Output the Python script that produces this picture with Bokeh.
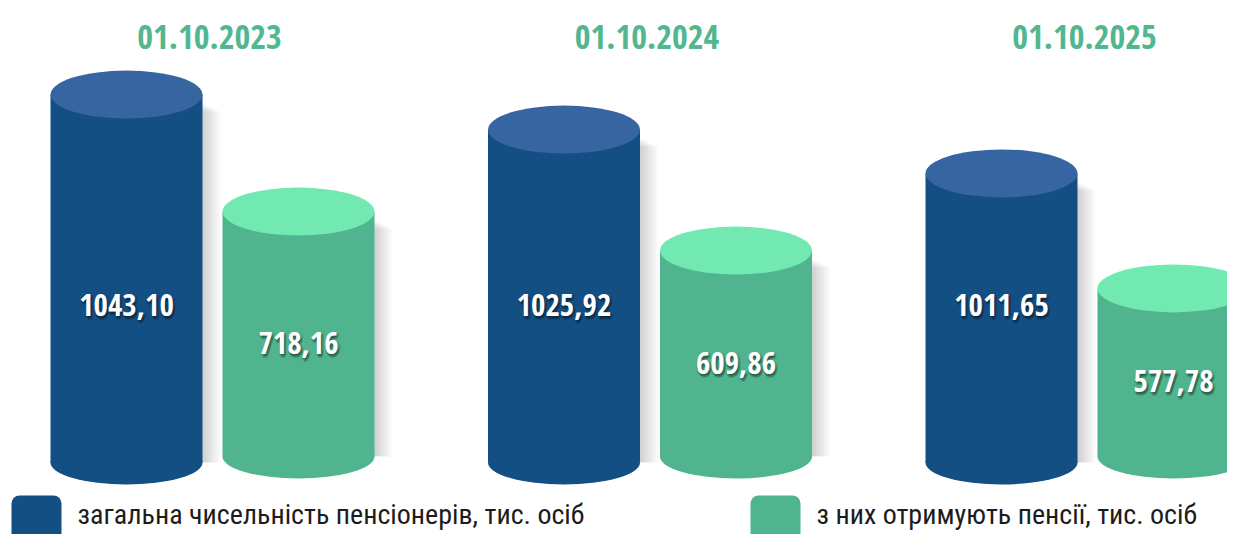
from bokeh.plotting import figure
from bokeh.models import Range1d
from bokeh.core.properties import value
from bokeh.embed import file_html
from bokeh.resources import INLINE

# ---------------- data ----------------
dates = ["01.10.2023", "01.10.2024", "01.10.2025"]
total_pensioners = [1043.10, 1025.92, 1011.65]
receiving_pension = [718.16, 609.86, 577.78]
series_names = ["загальна чисельність пенсіонерів, тис. осіб",
                "з них отримують пенсії, тис. осіб"]

# ---------------- style / layout ----------------
BLUE_BODY, BLUE_TOP = "#144f84", "#3665a2"
GREEN_BODY, GREEN_TOP = "#50b58e", "#71e9b0"
TITLE_GREEN = "#52b78f"
NUM_FONT = "'Open Sans Condensed', 'Roboto Condensed', sans-serif"
LEG_FONT = "'Roboto Condensed', Roboto, sans-serif"

W, H = 1227, 534
CYL_W = 152
GROUP_X0, GROUP_STEP, HALF_SEP = 212, 437.5, 86
# each group is drawn on its own value scale (screen y of value 0, px per unit)
GROUP_ZERO_Y = [469.6, 427.4, 441.0]
GROUP_PX_PER_UNIT = [0.360, 0.2908, 0.265]
BLUE_BASE_Y, GREEN_BASE_Y = 462, 456

p = figure(width=W, height=H, x_range=Range1d(0, W), y_range=Range1d(H, 0),
           output_backend="svg", toolbar_location=None, min_border=0,
           x_axis_type=None, y_axis_type=None)
p.grid.visible = False
p.outline_line_color = None
p.background_fill_color = "white"
p.border_fill_color = "white"

def fmt(v):
    return f"{v:.2f}".replace(".", ",")

def cylinder(xc, v, base_v, rng, body, top, s):
    # soft shadow to the right
    for k in range(1, 10):
        p.quad(left=[xc], right=[xc + CYL_W / 2 + 2 * k], top=[v - (8 + k) / s], bottom=[base_v],
               fill_color="black", fill_alpha=0.018, line_color=None, y_range_name=rng)
    p.quad(left=[xc - CYL_W / 2], right=[xc + CYL_W / 2], top=[v], bottom=[base_v],
           fill_color=body, line_color=None, y_range_name=rng)
    p.ellipse(x=[xc], y=[base_v], width=CYL_W, height=44, height_units="screen",
              fill_color=body, line_color=None, y_range_name=rng)
    p.ellipse(x=[xc], y=[v], width=CYL_W, height=48, height_units="screen",
              fill_color=top, line_color=None, y_range_name=rng)

def label(x, y, txt, rng="default", y_off=0):
    for dx, dy, a in [(2, 3, 0.2), (0, 2, 0.18), (3, 1, 0.14), (1, 4, 0.12), (-1, 1, 0.1)]:
        p.text(x=[x], y=[y], text=[txt], x_offset=dx, y_offset=y_off + dy,
               text_font=value(NUM_FONT), text_font_style="bold", text_font_size="31px",
               text_color="black", text_alpha=a, text_align="center",
               text_baseline="middle", y_range_name=rng)
    p.text(x=[x], y=[y], text=[txt], y_offset=y_off,
           text_font=value(NUM_FONT), text_font_style="bold", text_font_size="31px",
           text_color="white", text_align="center", text_baseline="middle",
           y_range_name=rng)

for i, d in enumerate(dates):
    z, s = GROUP_ZERO_Y[i], GROUP_PX_PER_UNIT[i]
    rng = f"g{i}"
    p.extra_y_ranges[rng] = Range1d((z - H) / s, z / s)
    gc = GROUP_X0 + i * GROUP_STEP
    bx, gx = gc - HALF_SEP, gc + HALF_SEP
    b_base = (z - BLUE_BASE_Y) / s
    g_base = (z - GREEN_BASE_Y) / s
    cylinder(bx, total_pensioners[i], b_base, rng, BLUE_BODY, BLUE_TOP, s)
    cylinder(gx, receiving_pension[i], g_base, rng, GREEN_BODY, GREEN_TOP, s)
    label(bx, 304, fmt(total_pensioners[i]))
    label(gx, (receiving_pension[i] + g_base) / 2, fmt(receiving_pension[i]), rng, 9)
    p.text(x=[gc - 3], y=[36], text=[d], text_font=value(NUM_FONT), text_font_style="bold",
           text_font_size="34px", text_color=TITLE_GREEN, text_align="center",
           text_baseline="middle")

# legend
for (lx, col, name) in [(11, BLUE_BODY, series_names[0]), (750, GREEN_BODY, series_names[1])]:
    p.quad(left=[lx], right=[lx + 50], top=[495], bottom=[560], fill_color=col,
           line_color=None, border_radius=8)
    p.text(x=[lx + 66], y=[514], text=[name], text_font=value(LEG_FONT),
           text_font_size="28px", text_color="#1c1c1c", text_align="left",
           text_baseline="middle")

open("out.html", "w").write(file_html(p, INLINE))
